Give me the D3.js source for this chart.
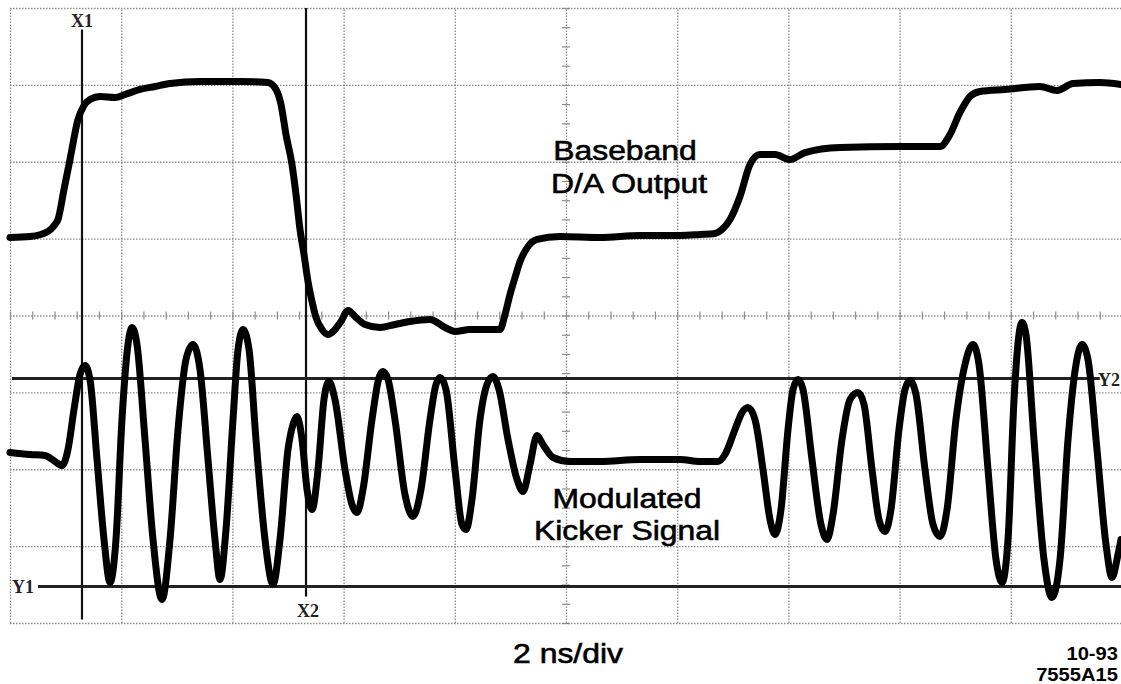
<!DOCTYPE html>
<html>
<head>
<meta charset="utf-8">
<script src="https://cdn.jsdelivr.net/npm/d3@7"></script>
<style>
  html, body { margin: 0; padding: 0; background: #fff; }
  svg { display: block; }
</style>
</head>
<body>
<div id="scope"></div>
<script>
// time in ns (2 ns/div), amplitude in screen divisions (0 = centre line)
const baseband = [
  [0.000, 1.015], [0.360, 1.028], [0.683, 1.093], [0.809, 1.184], [0.863, 1.249],
  [0.971, 1.639], [1.079, 2.029], [1.223, 2.550], [1.331, 2.732], [1.439, 2.810],
  [1.619, 2.849], [1.888, 2.836], [2.068, 2.875], [2.338, 2.940], [2.608, 2.979],
  [2.878, 3.018], [3.417, 3.044], [4.137, 3.044], [4.640, 3.031], [4.784, 2.940],
  [4.874, 2.745], [4.964, 2.354], [5.072, 1.964], [5.144, 1.574], [5.216, 1.119],
  [5.288, 0.793], [5.360, 0.442], [5.432, 0.182], [5.504, -0.026], [5.612, -0.182],
  [5.719, -0.247], [5.845, -0.182], [5.953, -0.078], [6.079, 0.065], [6.223, -0.026],
  [6.385, -0.117], [6.655, -0.156], [6.924, -0.117], [7.194, -0.078], [7.554, -0.052],
  [7.824, -0.156], [8.004, -0.208], [8.273, -0.182], [8.813, -0.182], [8.903, 0.013],
  [8.993, 0.273], [9.083, 0.494], [9.173, 0.702], [9.281, 0.859], [9.478, 0.989],
  [9.892, 1.028], [10.612, 1.015], [11.331, 1.041], [12.050, 1.041], [12.410, 1.054],
  [12.680, 1.067], [12.806, 1.119], [12.950, 1.249], [13.129, 1.548], [13.309, 1.964],
  [13.489, 2.094], [13.759, 2.094], [14.029, 2.029], [14.299, 2.120], [14.928, 2.185],
  [16.007, 2.198], [16.727, 2.198], [16.906, 2.354], [17.086, 2.641], [17.266, 2.849],
  [17.446, 2.914], [17.896, 2.940], [18.525, 2.979], [18.831, 2.927], [19.119, 3.018],
  [19.604, 3.031], [19.982, 3.005]
];

const kicker = [
  [0.000, -1.782], [0.360, -1.808], [0.629, -1.821], [0.809, -1.899], [0.935, -1.951],
  [1.043, -1.743], [1.151, -1.223], [1.259, -0.767], [1.349, -0.650], [1.439, -0.833],
  [1.565, -1.873], [1.691, -2.914], [1.799, -3.473], [1.906, -2.914], [2.014, -1.353],
  [2.122, -0.377], [2.194, -0.156], [2.284, -0.377], [2.428, -1.613], [2.572, -2.914],
  [2.734, -3.694], [2.878, -2.914], [3.022, -1.483], [3.165, -0.572], [3.291, -0.377],
  [3.417, -0.702], [3.561, -1.873], [3.687, -2.914], [3.777, -3.434], [3.885, -2.784],
  [4.011, -1.353], [4.101, -0.442], [4.191, -0.182], [4.299, -0.442], [4.424, -1.613],
  [4.586, -2.914], [4.730, -3.499], [4.856, -2.914], [5.000, -1.743], [5.090, -1.418],
  [5.162, -1.314], [5.252, -1.613], [5.342, -2.263], [5.432, -2.524], [5.540, -2.003],
  [5.647, -1.093], [5.737, -0.859], [5.845, -1.093], [6.025, -2.003], [6.151, -2.459],
  [6.241, -2.563], [6.349, -2.263], [6.511, -1.353], [6.637, -0.807], [6.709, -0.728],
  [6.799, -0.833], [6.924, -1.353], [7.104, -2.328], [7.248, -2.615], [7.392, -2.263],
  [7.554, -1.353], [7.662, -0.898], [7.734, -0.807], [7.842, -0.963], [8.004, -2.003],
  [8.129, -2.719], [8.201, -2.784], [8.309, -2.394], [8.453, -1.353], [8.579, -0.898],
  [8.687, -0.793], [8.795, -0.963], [8.957, -1.613], [9.119, -2.133], [9.227, -2.289],
  [9.353, -1.938], [9.478, -1.561], [9.586, -1.678], [9.766, -1.847], [10.072, -1.899],
  [10.612, -1.899], [11.331, -1.873], [12.050, -1.873], [12.410, -1.899], [12.734, -1.899],
  [12.860, -1.808], [13.040, -1.483], [13.165, -1.262], [13.273, -1.197], [13.399, -1.353],
  [13.543, -2.003], [13.669, -2.654], [13.759, -2.849], [13.867, -2.524], [13.993, -1.483],
  [14.083, -0.963], [14.173, -0.833], [14.263, -0.963], [14.424, -1.873], [14.586, -2.719],
  [14.694, -2.914], [14.802, -2.589], [14.964, -1.613], [15.108, -1.093], [15.252, -1.002],
  [15.360, -1.158], [15.504, -2.003], [15.629, -2.654], [15.737, -2.810], [15.845, -2.524],
  [15.989, -1.483], [16.097, -0.963], [16.187, -0.846], [16.295, -1.028], [16.457, -2.003],
  [16.601, -2.719], [16.727, -2.875], [16.853, -2.524], [17.014, -1.353], [17.176, -0.637],
  [17.320, -0.377], [17.428, -0.637], [17.590, -2.003], [17.734, -3.174], [17.842, -3.473],
  [17.950, -2.914], [18.058, -1.093], [18.147, -0.247], [18.201, -0.091], [18.273, -0.247],
  [18.417, -1.613], [18.597, -3.174], [18.741, -3.668], [18.885, -3.174], [19.029, -1.613],
  [19.173, -0.637], [19.281, -0.377], [19.388, -0.572], [19.550, -1.743], [19.712, -2.979],
  [19.820, -3.408], [19.928, -3.109], [19.982, -2.914]
];

const cursorsX = [
  { name: "X1", t: 1.295 },
  { name: "X2", t: 5.324 }
];
const cursorsY = [
  { name: "Y1", v: -3.525 },
  { name: "Y2", v: -0.820 }
];

const traceLabels = [
  { lines: ["Baseband", "D/A Output"] },
  { lines: ["Modulated", "Kicker Signal"] }
];
const timebase = "2 ns/div";
const figureId = ["10-93", "7555A15"];

(function () {
  const W = 1121, H = 684;
  const PLOT = { left: 10, right: 1122, top: 8, bottom: 623 };
  const STRETCH = 1.14;
  const SANS = "'Liberation Sans', Arial, Helvetica, sans-serif";

  const svg = d3.select("#scope").append("svg")
    .attr("width", W)
    .attr("height", H);

  const x = d3.scaleLinear().domain([0, 20]).range([PLOT.left, PLOT.right]);
  const y = d3.scaleLinear().domain([-4, 4]).range([PLOT.bottom, PLOT.top]);

  const gridStyle = g => g.selectAll("line")
    .attr("stroke", "#8c8c8c")
    .attr("stroke-width", 1.3)
    .attr("stroke-dasharray", "1.5 1.5");

  // graticule
  svg.append("g")
    .attr("transform", `translate(0,${PLOT.bottom})`)
    .call(d3.axisBottom(x).tickValues(d3.range(0, 21, 2))
      .tickSize(-(PLOT.bottom - PLOT.top)).tickFormat(""))
    .call(g => g.select(".domain").remove())
    .call(gridStyle);

  svg.append("g")
    .attr("transform", `translate(${PLOT.left},0)`)
    .call(d3.axisLeft(y).tickValues(d3.range(-4, 4.01, 1))
      .tickSize(-(PLOT.right - PLOT.left)).tickFormat(""))
    .call(g => g.select(".domain").remove())
    .call(gridStyle);

  // minor ticks on the centre lines
  svg.append("g")
    .attr("transform", `translate(0,${y(0) - 4})`)
    .call(d3.axisBottom(x).tickValues(d3.range(0, 20.01, 0.4)).tickSize(8).tickFormat(""))
    .call(g => g.select(".domain").remove())
    .call(g => g.selectAll("line").attr("stroke", "#8c8c8c").attr("stroke-width", 1.2));

  svg.append("g")
    .attr("transform", `translate(${x(10) - 4},0)`)
    .call(d3.axisRight(y).tickValues(d3.range(-4, 4.01, 0.25)).tickSize(8).tickFormat(""))
    .call(g => g.select(".domain").remove())
    .call(g => g.selectAll("line").attr("stroke", "#8c8c8c").attr("stroke-width", 1.2));

  // cursors
  const xExtent = { X1: [-3.955, 3.72], X2: [-3.655, 4] };
  svg.selectAll(".cx")
    .data(cursorsX)
    .join("line")
    .attr("class", "cx")
    .attr("x1", d => x(d.t)).attr("x2", d => x(d.t))
    .attr("y1", d => y(xExtent[d.name][0]))
    .attr("y2", d => y(xExtent[d.name][1]))
    .attr("stroke", "#111")
    .attr("stroke-width", 2.2);

  const yExtent = { Y1: [0.504, 20], Y2: [0.036, 19.6] };
  svg.selectAll(".cy")
    .data(cursorsY)
    .join("line")
    .attr("class", "cy")
    .attr("x1", d => x(yExtent[d.name][0]))
    .attr("x2", d => x(yExtent[d.name][1]))
    .attr("y1", d => y(d.v)).attr("y2", d => y(d.v))
    .attr("stroke", "#222")
    .attr("stroke-width", 3);

  const cursorText = (sel) => sel
    .attr("font-family", "'Liberation Serif', 'Times New Roman', serif")
    .attr("font-size", 18)
    .attr("font-weight", "bold")
    .attr("fill", "#222");

  svg.append("text").call(cursorText)
    .attr("x", x(cursorsX[0].t)).attr("y", 27)
    .attr("text-anchor", "middle").text(cursorsX[0].name);
  svg.append("text").call(cursorText)
    .attr("x", x(cursorsX[1].t) + 2).attr("y", 617)
    .attr("text-anchor", "middle").text(cursorsX[1].name);
  svg.append("text").call(cursorText)
    .attr("x", 12).attr("y", y(cursorsY[0].v) + 7)
    .text(cursorsY[0].name);
  svg.append("text").call(cursorText)
    .attr("x", W - 1).attr("y", y(cursorsY[1].v) + 7)
    .attr("text-anchor", "end")
    .text(cursorsY[1].name);

  // traces
  const line = d3.line()
    .x(d => x(d[0]))
    .y(d => y(d[1]))
    .curve(d3.curveMonotoneX);

  svg.selectAll(".trace")
    .data([baseband, kicker])
    .join("path")
    .attr("class", "trace")
    .attr("fill", "none")
    .attr("stroke", "#000")
    .attr("stroke-width", 7)
    .attr("stroke-linejoin", "round")
    .attr("stroke-linecap", "round")
    .attr("d", line);

  // annotations
  function stretchedText(cx, cy, str, size, anchor, weight, stretch) {
    svg.append("text")
      .attr("transform", `translate(${cx},${cy}) scale(${stretch || STRETCH},1)`)
      .attr("text-anchor", anchor)
      .attr("font-family", SANS)
      .attr("font-size", size)
      .attr("font-weight", weight || "normal")
      .attr("fill", "#000")
      .attr("stroke", "#000")
      .attr("stroke-width", weight === "bold" ? 0 : 0.6)
      .text(str);
  }

  stretchedText(625, 160, traceLabels[0].lines[0], 28, "middle");
  stretchedText(629, 193, traceLabels[0].lines[1], 28, "middle");
  stretchedText(627, 508, traceLabels[1].lines[0], 28, "middle");
  stretchedText(627, 540, traceLabels[1].lines[1], 28, "middle");
  stretchedText(568, 663, timebase, 28, "middle");
  stretchedText(1118, 660, figureId[0], 18, "end", "bold", 1.12);
  stretchedText(1118, 681, figureId[1], 18, "end", "bold", 1.12);
})();
</script>
</body>
</html>
